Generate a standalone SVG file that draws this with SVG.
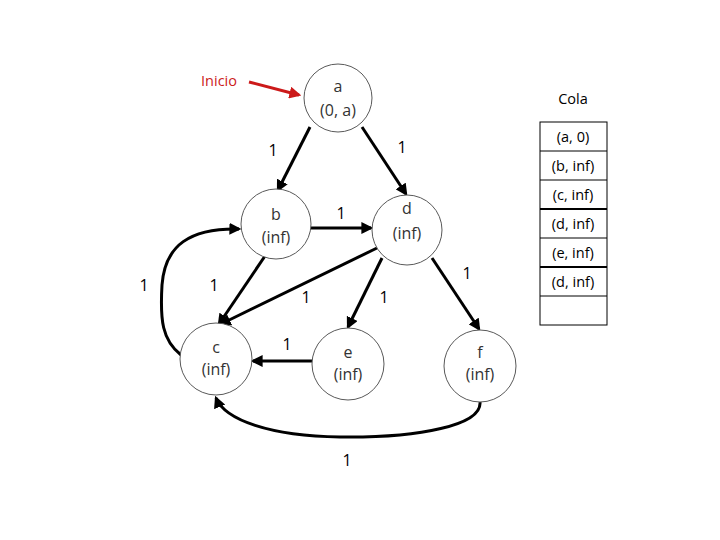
<svg xmlns="http://www.w3.org/2000/svg" width="720" height="540" viewBox="0 0 720 540">
<style>
.node circle{fill:#fff;stroke:#595959;stroke-width:1}
.node text{font-family:"Open Sans","Liberation Sans",sans-serif;font-size:16px;fill:#333;text-anchor:middle}
.edge{stroke:#000;stroke-width:3;fill:none;marker-end:url(#ah)}
.lbl{font-family:"Open Sans","Liberation Sans",sans-serif;font-size:16px;fill:#000;text-anchor:middle}
.q rect{fill:#fff;stroke:#000;stroke-width:1}
.q text{font-family:"Open Sans","Liberation Sans",sans-serif;font-size:14.5px;fill:#000;text-anchor:middle}
</style>
<defs>
<marker id="ah" markerWidth="4" markerHeight="4" refX="3.2" refY="2" orient="auto" markerUnits="strokeWidth">
<path d="M0,0 L4,2 L0,4 Z" fill="#000"/>
</marker>
<marker id="ahr" markerWidth="4" markerHeight="4" refX="3.2" refY="2" orient="auto" markerUnits="strokeWidth">
<path d="M0,0 L4,2 L0,4 Z" fill="#cc1a1a"/>
</marker>
</defs>
<g id="connectors">
<line x1="249" y1="82" x2="299" y2="95" stroke="#cc1a1a" stroke-width="3" marker-end="url(#ahr)"/>
<line class="edge" x1="310" y1="127" x2="278" y2="190"/>
<line class="edge" x1="362" y1="127" x2="406" y2="194"/>
<line class="edge" x1="311" y1="228" x2="371" y2="228"/>
<line class="edge" x1="265" y1="256" x2="219" y2="324"/>
<line class="edge" x1="377" y1="248" x2="221" y2="324"/>
<line class="edge" x1="382" y1="258" x2="348" y2="327"/>
<line class="edge" x1="432" y1="258" x2="479" y2="329"/>
<line class="edge" x1="312" y1="361" x2="253" y2="361"/>
<path class="edge" d="M181,355 C162,340 160,320 162,285 C165,245 190,228 239,229"/>
<path class="edge" d="M480,402 C482,425 420,438 340,437 C270,436 225,420 216,398"/>
</g>
<g id="labels">
<text class="lbl" x="273" y="156">1</text>
<text class="lbl" x="402" y="153">1</text>
<text class="lbl" x="341" y="219">1</text>
<text class="lbl" x="144" y="291">1</text>
<text class="lbl" x="214" y="291">1</text>
<text class="lbl" x="306" y="303">1</text>
<text class="lbl" x="384" y="303">1</text>
<text class="lbl" x="467" y="279">1</text>
<text class="lbl" x="287" y="350">1</text>
<text class="lbl" x="347" y="466">1</text>
</g>
<text x="219" y="86" font-family="Open Sans, Liberation Sans, sans-serif" font-size="14.5" fill="#cc1a1a" text-anchor="middle">Inicio</text>
<g id="node-a" class="node"><circle cx="338" cy="98" r="34"/><text x="338" y="92">a</text><text x="338" y="116">(0, a)</text></g>
<g id="node-b" class="node"><circle cx="276" cy="224" r="35"/><text x="276" y="220">b</text><text x="276" y="243">(inf)</text></g>
<g id="node-d" class="node"><circle cx="407" cy="230" r="35"/><text x="407" y="214">d</text><text x="407" y="239">(inf)</text></g>
<g id="node-c" class="node"><circle cx="216" cy="359" r="36"/><text x="216" y="353">c</text><text x="216" y="375">(inf)</text></g>
<g id="node-e" class="node"><circle cx="348" cy="364" r="36"/><text x="348" y="358">e</text><text x="348" y="380">(inf)</text></g>
<g id="node-f" class="node"><circle cx="480" cy="366" r="36"/><text x="480" y="358">f</text><text x="480" y="380">(inf)</text></g>
<g id="queue" class="q">
<text x="573" y="104">Cola</text>
<rect x="540" y="122" width="67" height="203"/>
<line x1="540" y1="151" x2="607" y2="151" stroke="#000"/>
<line x1="540" y1="180" x2="607" y2="180" stroke="#000"/>
<line x1="540" y1="209" x2="607" y2="209" stroke="#000" stroke-width="2"/>
<line x1="540" y1="238" x2="607" y2="238" stroke="#000"/>
<line x1="540" y1="267" x2="607" y2="267" stroke="#000" stroke-width="2"/>
<line x1="540" y1="296" x2="607" y2="296" stroke="#000"/>
<text x="573" y="142">(a, 0)</text>
<text x="573" y="171">(b, inf)</text>
<text x="573" y="200">(c, inf)</text>
<text x="573" y="229">(d, inf)</text>
<text x="573" y="258">(e, inf)</text>
<text x="573" y="287">(d, inf)</text>
</g>
</svg>
